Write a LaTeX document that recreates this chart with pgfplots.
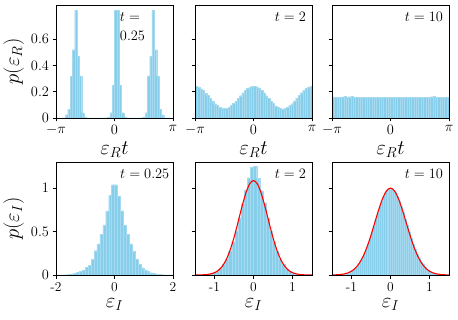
\documentclass[border=0pt]{standalone}
\usepackage{pgfplots}
\pgfplotsset{compat=1.18}
\definecolor{skyblue}{RGB}{135,206,235}
\tikzset{tlab/.style={anchor=north east, inner sep=0pt, font=\fontsize{15}{17}\selectfont}}
\pgfplotsset{
  panel/.style={
    scale only axis, width=117pt, height=113pt, anchor=south west,
    axis on top,
    axis line style={line width=0.8pt, black},
    tick align=outside, xtick pos=left, ytick pos=left,
    major tick length=3.5pt,
    tick style={line width=0.6pt, black},
    tick label style={font=\fontsize{13.5}{14}\selectfont},
    label style={font=\fontsize{20}{22}\selectfont},
  },
  toprow/.style={ymin=0, ymax=0.86, xmin=-3.14159, xmax=3.14159,
    xtick={-3.14159,0,3.14159}, xticklabels={$-\pi$,$0$,$\pi$},
    ytick={0,0.2,0.4,0.6}, xlabel={$\varepsilon_R t$}},
  botrow/.style={ymin=0, ymax=1.3, ytick={0,0.5,1}, xlabel={$\varepsilon_I$}},
  histbar/.style={ybar, fill=skyblue, draw=skyblue!75!white, line width=0.2pt},
  gauss/.style={red, line width=1.1pt, smooth},
}
\begin{document}
\begin{tikzpicture}
\useasboundingbox (0,0) rectangle (458pt,319pt);
% ---------------- top left
\begin{axis}[panel, toprow, at={(56pt,201pt)}, ylabel={$p(\varepsilon_R)$}]
\addplot[histbar, bar width=0.125664, bar shift=0.062832] coordinates {
(-3.1416,0) (-3.0159,0) (-2.8903,0) (-2.7646,0) (-2.6389,0.025) (-2.5133,0.065)
(-2.3876,0.318) (-2.2619,0.52) (-2.1363,0.82) (-2.0106,0.47) (-1.8850,0.32)
(-1.7593,0.04) (-1.6336,0.004) (-1.5080,0) (-1.3823,0) (-1.2566,0) (-1.1310,0)
(-1.0053,0) (-0.8796,0) (-0.7540,0) (-0.6283,0) (-0.5027,0) (-0.3770,0.006)
(-0.2513,0.04) (-0.1257,0.25) (0,0.82) (0.1257,0.82) (0.2513,0.25) (0.3770,0.04)
(0.5027,0.006) (0.6283,0) (0.7540,0) (0.8796,0) (1.0053,0) (1.1310,0) (1.2566,0)
(1.3823,0) (1.5080,0.004) (1.6336,0.04) (1.7593,0.32) (1.8850,0.47) (2.0106,0.82)
(2.1363,0.52) (2.2619,0.318) (2.3876,0.065) (2.5133,0.025) (2.6389,0) (2.7646,0)
(2.8903,0) (3.0159,0)
};
\node[anchor=north west, inner sep=0pt, align=left, font=\fontsize{15}{18.5}\selectfont] at (rel axis cs:0.545,0.93) {$t=$\\$0.25$};
\end{axis}
% ---------------- top middle
\begin{axis}[panel, toprow, at={(195pt,201pt)}, yticklabels={}]
\addplot[histbar, bar width=0.125664, bar shift=0.062832] coordinates {
(-3.1416,0.240) (-3.0159,0.236) (-2.8903,0.223) (-2.7646,0.211) (-2.6389,0.190)
(-2.5133,0.173) (-2.3876,0.149) (-2.2619,0.131) (-2.1363,0.109) (-2.0106,0.095)
(-1.8850,0.082) (-1.7593,0.074) (-1.6336,0.072) (-1.5080,0.075) (-1.3823,0.080)
(-1.2566,0.096) (-1.1310,0.111) (-1.0053,0.128) (-0.8796,0.152) (-0.7540,0.170)
(-0.6283,0.193) (-0.5027,0.209) (-0.3770,0.226) (-0.2513,0.237) (-0.1257,0.242)
(0,0.239) (0.1257,0.233) (0.2513,0.226) (0.3770,0.209) (0.5027,0.193)
(0.6283,0.170) (0.7540,0.151) (0.8796,0.130) (1.0053,0.111) (1.1310,0.093)
(1.2566,0.083) (1.3823,0.073) (1.5080,0.070) (1.6336,0.074) (1.7593,0.082)
(1.8850,0.095) (2.0106,0.109) (2.1363,0.131) (2.2619,0.151) (2.3876,0.171)
(2.5133,0.193) (2.6389,0.211) (2.7646,0.226) (2.8903,0.234) (3.0159,0.243)
};
\node[tlab] at (rel axis cs:0.95,0.94) {$t=2$};
\end{axis}
% ---------------- top right
\begin{axis}[panel, toprow, at={(332pt,201pt)}, yticklabels={}]
\addplot[histbar, bar width=0.125664, bar shift=0.062832] coordinates {
(-3.1416,0.157) (-3.0159,0.159) (-2.8903,0.158) (-2.7646,0.157) (-2.6389,0.160)
(-2.5133,0.163) (-2.3876,0.158) (-2.2619,0.162) (-2.1363,0.163) (-2.0106,0.158)
(-1.8850,0.157) (-1.7593,0.159) (-1.6336,0.156) (-1.5080,0.158) (-1.3823,0.157)
(-1.2566,0.159) (-1.1310,0.158) (-1.0053,0.156) (-0.8796,0.157) (-0.7540,0.159)
(-0.6283,0.158) (-0.5027,0.157) (-0.3770,0.156) (-0.2513,0.158) (-0.1257,0.159)
(0,0.157) (0.1257,0.158) (0.2513,0.159) (0.3770,0.157) (0.5027,0.158)
(0.6283,0.159) (0.7540,0.157) (0.8796,0.156) (1.0053,0.158) (1.1310,0.157)
(1.2566,0.159) (1.3823,0.158) (1.5080,0.157) (1.6336,0.159) (1.7593,0.158)
(1.8850,0.157) (2.0106,0.159) (2.1363,0.162) (2.2619,0.163) (2.3876,0.158)
(2.5133,0.157) (2.6389,0.158) (2.7646,0.159) (2.8903,0.157) (3.0159,0.158)
};
\node[tlab] at (rel axis cs:0.95,0.94) {$t=10$};
\end{axis}
% ---------------- bottom left
\begin{axis}[panel, botrow, at={(56pt,44pt)}, xmin=-2, xmax=2, xtick={-2,0,2},
  xticklabels={{-2},{0},{2}}, ylabel={$p(\varepsilon_I)$}]
\addplot[histbar, bar width=0.1, bar shift=0.05] coordinates {
(-2.0,0.0005) (-1.9,0.001) (-1.8,0.002) (-1.7,0.004) (-1.6,0.007) (-1.5,0.012)
(-1.4,0.018) (-1.3,0.028) (-1.2,0.040) (-1.1,0.058) (-1.0,0.088) (-0.9,0.115)
(-0.8,0.18) (-0.7,0.28) (-0.6,0.358) (-0.5,0.469) (-0.4,0.577) (-0.3,0.738)
(-0.2,0.915) (-0.1,1.04) (0.0,1.04) (0.1,0.91) (0.2,0.74) (0.3,0.575)
(0.4,0.465) (0.5,0.36) (0.6,0.275) (0.7,0.185) (0.8,0.12) (0.9,0.085)
(1.0,0.06) (1.1,0.041) (1.2,0.027) (1.3,0.018) (1.4,0.012) (1.5,0.007)
(1.6,0.004) (1.7,0.002) (1.8,0.001) (1.9,0.0005)
};
\node[tlab] at (rel axis cs:0.97,0.94) {$t=0.25$};
\end{axis}
% ---------------- bottom middle
\begin{axis}[panel, botrow, at={(195pt,44pt)}, xmin=-1.5, xmax=1.5, xtick={-1,0,1},
  xticklabels={{-1},{0},{1}}, yticklabels={}]
\addplot[histbar, bar width=0.08, bar shift=0.04] coordinates {
(-1.52,0.0005) (-1.44,0.0015) (-1.36,0.003) (-1.28,0.006) (-1.20,0.010)
(-1.12,0.017) (-1.04,0.028) (-0.96,0.045) (-0.88,0.075) (-0.80,0.12)
(-0.72,0.185) (-0.64,0.27) (-0.56,0.38) (-0.48,0.51) (-0.40,0.66)
(-0.32,0.82) (-0.24,0.98) (-0.16,1.12) (-0.08,1.24) (0.00,1.25)
(0.08,1.11) (0.16,0.97) (0.24,0.83) (0.32,0.65) (0.40,0.50)
(0.48,0.38) (0.56,0.27) (0.64,0.18) (0.72,0.12) (0.80,0.073)
(0.88,0.046) (0.96,0.027) (1.04,0.016) (1.12,0.010) (1.20,0.006)
(1.28,0.003) (1.36,0.0015) (1.44,0.0005)
};
\addplot[gauss] coordinates {
(-1.5,0.00026) (-1.4,0.00075) (-1.3,0.00205) (-1.2,0.00519) (-1.1,0.01219)
(-1.0,0.02656) (-0.9,0.0538) (-0.8,0.1011) (-0.7,0.1763) (-0.6,0.2857)
(-0.5,0.4298) (-0.4,0.6003) (-0.3,0.7784) (-0.2,0.937) (-0.1,1.0474)
(0,1.087) (0.1,1.0474) (0.2,0.937) (0.3,0.7784) (0.4,0.6003) (0.5,0.4298)
(0.6,0.2857) (0.7,0.1763) (0.8,0.1011) (0.9,0.0538) (1.0,0.02656)
(1.1,0.01219) (1.2,0.00519) (1.3,0.00205) (1.4,0.00075) (1.5,0.00026)
};
\node[tlab] at (rel axis cs:0.95,0.94) {$t=2$};
\end{axis}
% ---------------- bottom right
\begin{axis}[panel, botrow, at={(332pt,44pt)}, xmin=-1.5, xmax=1.5, xtick={-1,0,1},
  xticklabels={{-1},{0},{1}}, yticklabels={}]
\addplot[histbar, bar width=0.05, bar shift=0.025] coordinates {
(-1.50,0.001) (-1.45,0.002) (-1.40,0.003) (-1.35,0.004) (-1.30,0.006)
(-1.25,0.009) (-1.20,0.013) (-1.15,0.019) (-1.10,0.027) (-1.05,0.038)
(-1.00,0.051) (-0.95,0.070) (-0.90,0.092) (-0.85,0.118) (-0.80,0.154)
(-0.75,0.192) (-0.70,0.242) (-0.65,0.293) (-0.60,0.357) (-0.55,0.421)
(-0.50,0.495) (-0.45,0.567) (-0.40,0.646) (-0.35,0.717) (-0.30,0.791)
(-0.25,0.852) (-0.20,0.910) (-0.15,0.950) (-0.10,0.984) (-0.05,0.996)
(0.00,1.000) (0.05,0.980) (0.10,0.954) (0.15,0.907) (0.20,0.855)
(0.25,0.788) (0.30,0.720) (0.35,0.643) (0.40,0.570) (0.45,0.493)
(0.50,0.424) (0.55,0.354) (0.60,0.296) (0.65,0.240) (0.70,0.195)
(0.75,0.152) (0.80,0.120) (0.85,0.091) (0.90,0.069) (0.95,0.052)
(1.00,0.037) (1.05,0.027) (1.10,0.019) (1.15,0.013) (1.20,0.009)
(1.25,0.006) (1.30,0.004) (1.35,0.003) (1.40,0.002) (1.45,0.001)
};
\addplot[gauss] coordinates {
(-1.5,0.00088) (-1.4,0.0022) (-1.3,0.0051) (-1.2,0.0111) (-1.1,0.0228)
(-1.0,0.0439) (-0.9,0.0796) (-0.8,0.1353) (-0.7,0.2163) (-0.6,0.3247)
(-0.5,0.4578) (-0.4,0.6065) (-0.3,0.7548) (-0.2,0.8825) (-0.1,0.9692)
(0,1.0) (0.1,0.9692) (0.2,0.8825) (0.3,0.7548) (0.4,0.6065) (0.5,0.4578)
(0.6,0.3247) (0.7,0.2163) (0.8,0.1353) (0.9,0.0796) (1.0,0.0439)
(1.1,0.0228) (1.2,0.0111) (1.3,0.0051) (1.4,0.0022) (1.5,0.00088)
};
\node[tlab] at (rel axis cs:0.95,0.94) {$t=10$};
\end{axis}
\end{tikzpicture}
\end{document}
